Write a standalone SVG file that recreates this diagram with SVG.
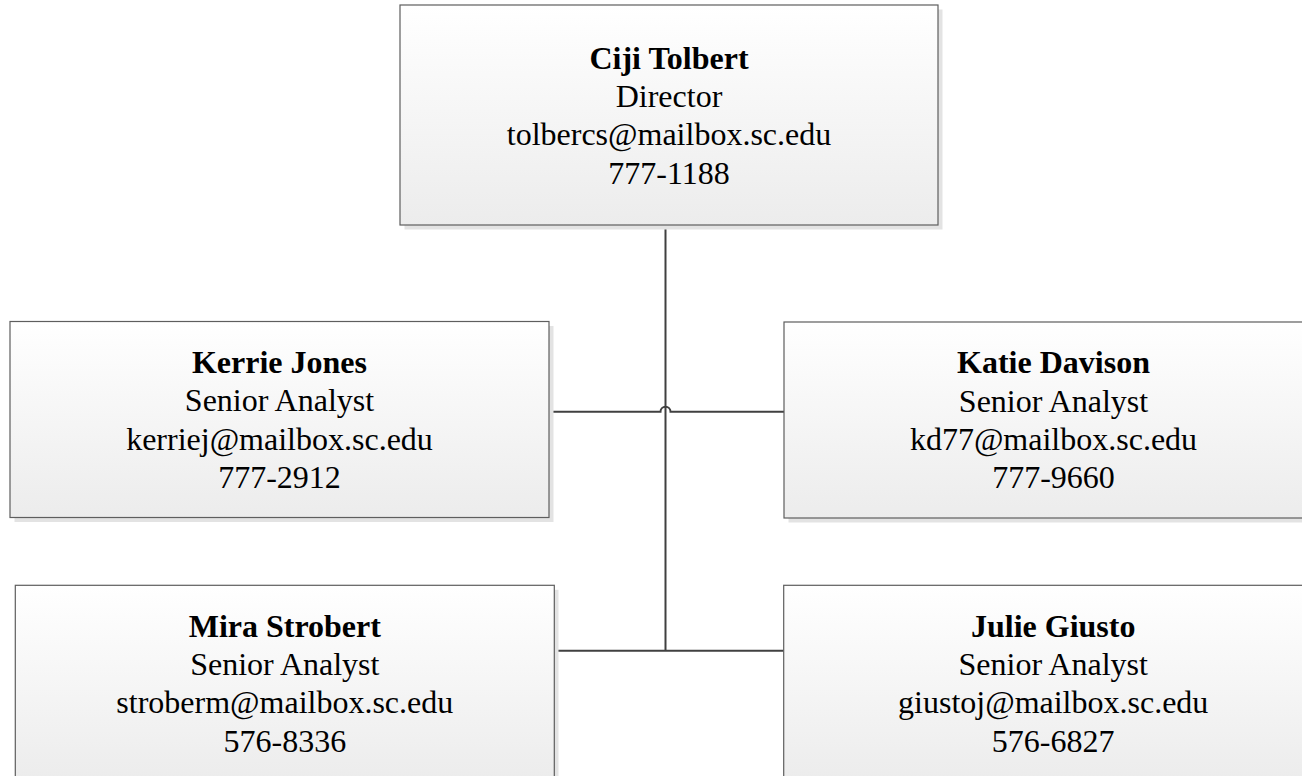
<svg xmlns="http://www.w3.org/2000/svg" width="1302" height="776" viewBox="0 0 1302 776">
<defs>
<linearGradient id="fill" x1="0" y1="0" x2="0" y2="1">
<stop offset="0" stop-color="#ffffff"/>
<stop offset="1" stop-color="#ececec"/>
</linearGradient>
<style>
.shadow{fill:#e3e3e3;stroke:none}
.box{fill:url(#fill);stroke:#5e5e5e;stroke-width:1.2}
.t{font-family:"Liberation Serif","Times New Roman",serif;font-size:32px;fill:#000;text-anchor:middle}
.n{font-weight:bold}
.c{fill:none;stroke:#404040;stroke-width:2}
</style>
</defs>
<rect width="1302" height="776" fill="#ffffff"/>
<g id="connectors">
<path class="c" d="M665.5 225 V650.7"/>
<path class="c" d="M549 411.7 H660.5 A5 5 0 0 1 670.5 411.7 H784"/>
<path class="c" d="M554.3 650.7 H783.7"/>
</g>
<g id="ciji-tolbert">
<rect class="shadow" x="404.5" y="9.5" width="538" height="220"/>
<rect class="box" x="400" y="5" width="538" height="220"/>
<text class="t n" x="669" y="68.5">Ciji Tolbert</text>
<text class="t" x="669" y="106.9">Director</text>
<text class="t" x="669" y="145.3">tolbercs@mailbox.sc.edu</text>
<text class="t" x="669" y="183.7">777-1188</text>
</g>
<g id="kerrie-jones">
<rect class="shadow" x="14.5" y="326" width="539" height="196"/>
<rect class="box" x="10" y="321.5" width="539" height="196"/>
<text class="t n" x="279.5" y="372.7">Kerrie Jones</text>
<text class="t" x="279.5" y="411.1">Senior Analyst</text>
<text class="t" x="279.5" y="449.5">kerriej@mailbox.sc.edu</text>
<text class="t" x="279.5" y="487.9">777-2912</text>
</g>
<g id="katie-davison">
<rect class="shadow" x="788.5" y="326.5" width="539" height="196"/>
<rect class="box" x="784" y="322" width="539" height="196"/>
<text class="t n" x="1053.5" y="373.2">Katie Davison</text>
<text class="t" x="1053.5" y="411.6">Senior Analyst</text>
<text class="t" x="1053.5" y="450">kd77@mailbox.sc.edu</text>
<text class="t" x="1053.5" y="488.4">777-9660</text>
</g>
<g id="mira-strobert">
<rect class="shadow" x="19.5" y="589.8" width="539" height="196"/>
<rect class="box" x="15.3" y="585.3" width="539" height="196"/>
<text class="t n" x="284.8" y="636.5">Mira Strobert</text>
<text class="t" x="284.8" y="674.9">Senior Analyst</text>
<text class="t" x="284.8" y="713.3">stroberm@mailbox.sc.edu</text>
<text class="t" x="284.8" y="751.7">576-8336</text>
</g>
<g id="julie-giusto">
<rect class="shadow" x="788.2" y="589.8" width="539" height="196"/>
<rect class="box" x="783.7" y="585.3" width="539" height="196"/>
<text class="t n" x="1053.2" y="636.5">Julie Giusto</text>
<text class="t" x="1053.2" y="674.9">Senior Analyst</text>
<text class="t" x="1053.2" y="713.3">giustoj@mailbox.sc.edu</text>
<text class="t" x="1053.2" y="751.7">576-6827</text>
</g>
</svg>
